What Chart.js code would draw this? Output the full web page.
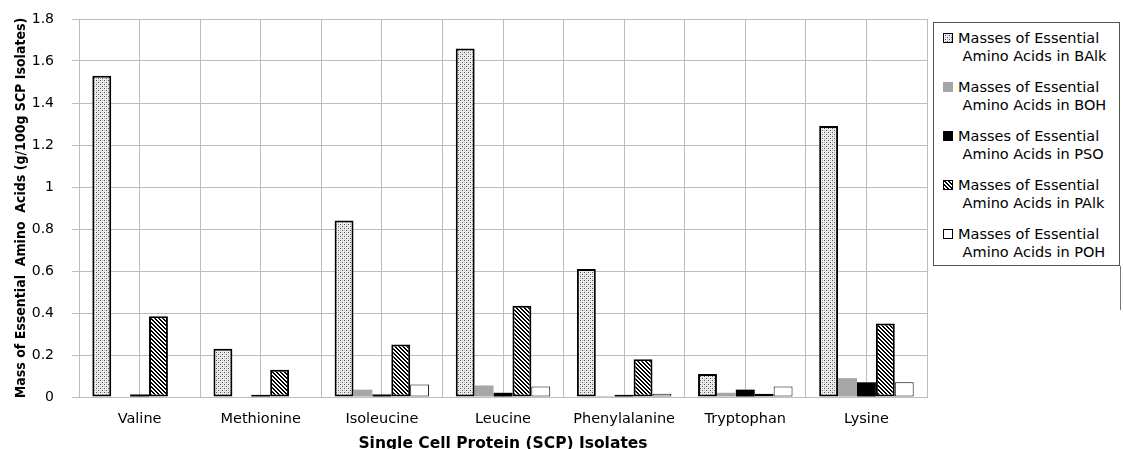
<!DOCTYPE html>
<html>
<head>
<meta charset="utf-8">
<script src="https://cdn.jsdelivr.net/npm/chart.js@4/dist/chart.umd.min.js"></script>
<style>
html,body{margin:0;padding:0;background:#fff;overflow:hidden;}
#wrap{position:relative;width:1123px;height:449px;}
#legend{position:absolute;left:933px;top:22px;width:187px;height:244px;border:1px solid #555;box-sizing:border-box;background:#fff;font-family:"DejaVu Sans",sans-serif;font-size:14.5px;color:#000;}
.item{position:absolute;left:0;}
.item canvas{position:absolute;left:9px;top:4px;}
.item div{position:absolute;left:24px;top:0;line-height:18px;white-space:nowrap;}
#rline{position:absolute;left:1120px;top:266px;width:1px;height:44px;background:#777;}
</style>
</head>
<body>
<div id="wrap">
<canvas id="c" width="1123" height="449"></canvas>
<div id="legend"></div>
<div id="rline"></div>
</div>
<script>
const categories = ['Valine','Methionine','Isoleucine','Leucine','Phenylalanine','Tryptophan','Lysine'];
const seriesNames = ['Masses of Essential Amino Acids in BAlk','Masses of Essential Amino Acids in BOH','Masses of Essential Amino Acids in PSO','Masses of Essential Amino Acids in PAlk','Masses of Essential Amino Acids in POH'];
const legendLine1 = ['Masses of Essential','Masses of Essential','Masses of Essential','Masses of Essential','Masses of Essential'];
const legendLine2 = ['Amino Acids in BAlk','Amino Acids in BOH','Amino Acids in PSO','Amino Acids in PAlk','Amino Acids in POH'];
const bAlk = [1.53, 0.23, 0.84, 1.66, 0.61, 0.11, 1.29];
const bOH  = [0, 0, 0.035, 0.055, 0.005, 0.02, 0.09];
const pSO  = [0.012, 0.01, 0.012, 0.02, 0.01, 0.035, 0.07];
const pAlk = [0.385, 0.13, 0.25, 0.435, 0.18, 0.015, 0.35];
const pOH  = [0, 0, 0.06, 0.05, 0.015, 0.05, 0.07];
const yTickValues = [0,0.2,0.4,0.6,0.8,1,1.2,1.4,1.6,1.8];

function makeTile(size, draw){
  const t = document.createElement('canvas');
  t.width = size; t.height = size;
  const g = t.getContext('2d');
  draw(g);
  return t;
}
const ctx = document.getElementById('c').getContext('2d');
const dotTile = makeTile(4, g => {
  g.fillStyle = '#eeeeee'; g.fillRect(0,0,4,4);
  g.fillStyle = '#555'; g.fillRect(0,0,1,1); g.fillRect(2,2,1,1);
  g.fillStyle = '#bbb'; g.fillRect(2,0,1,1); g.fillRect(0,2,1,1);
});
const diagTile = makeTile(4, g => {
  g.fillStyle = '#fff'; g.fillRect(0,0,4,4);
  g.fillStyle = '#000';
  for (let y=0;y<4;y++) for (let x=0;x<4;x++){
    const d = ((x - y) % 4 + 4) % 4;
    if (d === 0 || d === 1) g.fillRect(x,y,1,1);
  }
});
const dotPattern = ctx.createPattern(dotTile,'repeat');
const diagPattern = ctx.createPattern(diagTile,'repeat');

const styles = [
  {bg: dotPattern, border:'#000', bw:2},
  {bg: '#a6a6a6', border:'#a6a6a6', bw:0},
  {bg: '#000', border:'#000', bw:0},
  {bg: diagPattern, border:'#000', bw:2},
  {bg: '#fff', border:'#000', bw:1}
];
const values = [bAlk, bOH, pSO, pAlk, pOH];

const datasets = values.map((v,i)=>({
  label: seriesNames[i],
  data: v,
  backgroundColor: styles[i].bg,
  borderColor: styles[i].border,
  borderWidth: styles[i].bw,
  borderSkipped: false,
  categoryPercentage: 0.78,
  barPercentage: 1.0
}));

new Chart(ctx, {
  type: 'bar',
  data: { labels: categories, datasets },
  options: {
    responsive: false,
    animation: false,
    layout: { padding: { left: 0, right: 196, top: 19, bottom: 0 } },
    plugins: { legend: { display: false }, tooltip: { enabled: false } },
    scales: {
      x: {
        offset: true,
        grid: { offset: true, color: '#bdbdbd', lineWidth: 1, drawTicks: false },
        border: { color: '#bdbdbd' },
        ticks: { color: '#000', font: { family: 'DejaVu Sans', size: 14.5 }, padding: 14, maxRotation: 0, autoSkip: false },
        title: { display: true, text: 'Single Cell Protein (SCP) Isolates', color: '#000',
                 font: { family: 'DejaVu Sans', size: 15.5, weight: 'bold', lineHeight: 1 }, padding: { top: 0, bottom: -3 } },
        afterFit: s => { s.height = 52; s.paddingLeft = 0; s.paddingRight = 0; }
      },
      x2: {
        type: 'category',
        position: 'bottom',
        offset: true,
        grid: { offset: false, color: '#bdbdbd', lineWidth: 1, drawTicks: false },
        border: { display: false },
        ticks: { display: false },
        afterFit: s => { s.height = 0; s.paddingLeft = 0; s.paddingRight = 0; }
      },
      y: {
        min: 0, max: 1.8,
        afterBuildTicks: s => { s.ticks = yTickValues.map(v => ({ value: v })); },
        grid: { color: '#bdbdbd', lineWidth: 1, tickLength: 7 },
        border: { color: '#bdbdbd' },
        ticks: { color: '#000', font: { family: 'DejaVu Sans', size: 14 }, padding: 18,
                 callback: v => String(Number(Number(v).toFixed(1))) },
        title: { display: true, text: 'Mass of Essential  Amino  Acids (g/100g SCP Isolates)', color: '#000',
                 font: { family: 'DejaVu Sans Condensed', size: 14, weight: 'bold', lineHeight: 1.2 }, padding: { top: 13, bottom: 0 } },
        afterFit: s => { s.width = 79; s.paddingTop = 0; s.paddingBottom = 0; }
      }
    }
  }
});

// HTML legend built from the series
const leg = document.getElementById('legend');
styles.forEach((st,i)=>{
  const item = document.createElement('div');
  item.className = 'item';
  item.style.top = (6 + i*49) + 'px';
  const sw = document.createElement('canvas');
  sw.width = 10; sw.height = 10;
  const g = sw.getContext('2d');
  g.fillStyle = st.bg === dotPattern ? g.createPattern(dotTile,'repeat') : (st.bg === diagPattern ? g.createPattern(diagTile,'repeat') : st.bg);
  g.fillRect(0,0,10,10);
  if (st.bw > 0 || i === 4) { g.strokeStyle = '#000'; g.lineWidth = 1; g.strokeRect(0.5,0.5,9,9); }
  item.appendChild(sw);
  const t = document.createElement('div');
  t.innerHTML = legendLine1[i] + '<br>&nbsp;' + legendLine2[i];
  item.appendChild(t);
  leg.appendChild(item);
});
</script>
</body>
</html>
